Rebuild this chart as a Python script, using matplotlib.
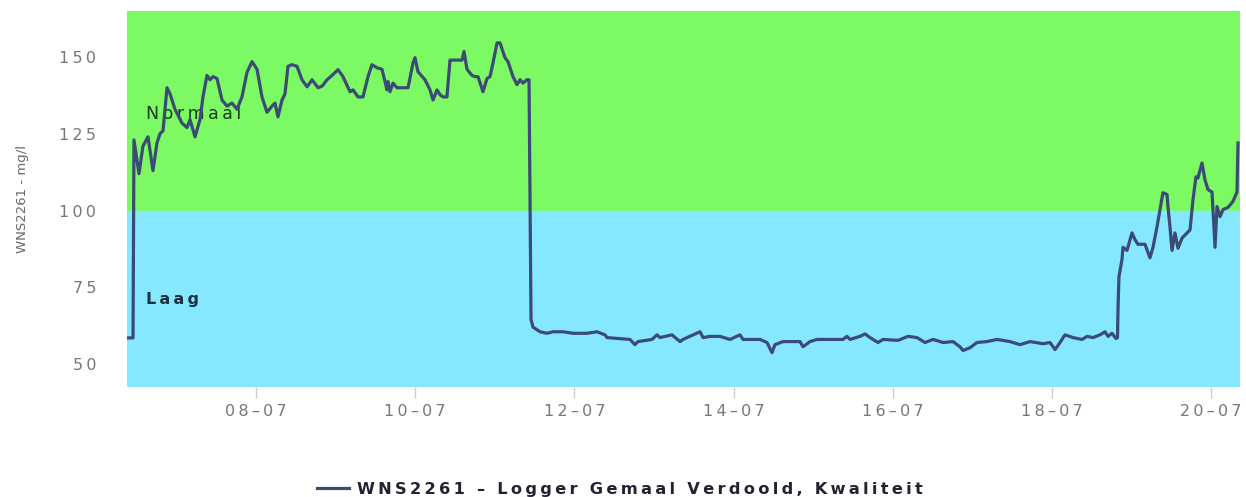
import pandas as pd
import matplotlib
matplotlib.use("Agg")
import matplotlib.pyplot as plt
import matplotlib.dates as mdates
from matplotlib.ticker import FuncFormatter

# measurement times as fractional day of July 2023, and concentration in mg/l
days = [6.379, 6.455, 6.467, 6.530, 6.580, 6.643, 6.706, 6.756, 6.794, 6.832,
        6.882, 6.920, 6.982, 7.070, 7.133, 7.171, 7.234, 7.296, 7.334, 7.384,
        7.422, 7.460, 7.510, 7.573, 7.636, 7.698, 7.761, 7.824, 7.887, 7.950,
        8.013, 8.075, 8.138, 8.201, 8.239, 8.276, 8.327, 8.364, 8.402, 8.452,
        8.515, 8.578, 8.641, 8.704, 8.779, 8.830, 8.892, 8.955, 9.030, 9.093,
        9.181, 9.219, 9.281, 9.344, 9.407, 9.457, 9.520, 9.583, 9.646, 9.658,
        9.683, 9.721, 9.771, 9.910, 9.972, 9.997, 10.035, 10.123, 10.186, 10.224,
        10.274, 10.312, 10.349, 10.399, 10.437, 10.525, 10.588, 10.613, 10.651, 10.714,
        10.751, 10.789, 10.852, 10.902, 10.940, 10.977, 11.028, 11.065, 11.128, 11.166,
        11.229, 11.279, 11.317, 11.354, 11.404, 11.430, 11.455, 11.480, 11.568, 11.656,
        11.731, 11.857, 11.983, 12.158, 12.284, 12.384, 12.410, 12.698, 12.761, 12.799,
        12.975, 13.038, 13.075, 13.226, 13.327, 13.364, 13.578, 13.616, 13.704, 13.829,
        13.955, 14.080, 14.118, 14.332, 14.420, 14.482, 14.520, 14.621, 14.834, 14.872,
        14.960, 15.048, 15.374, 15.424, 15.462, 15.588, 15.651, 15.714, 15.814, 15.877,
        16.065, 16.191, 16.304, 16.405, 16.505, 16.631, 16.756, 16.844, 16.882, 16.970,
        17.058, 17.183, 17.309, 17.472, 17.598, 17.724, 17.887, 17.975, 18.038, 18.101,
        18.163, 18.264, 18.377, 18.440, 18.515, 18.603, 18.666, 18.704, 18.754, 18.804,
        18.823, 18.829, 18.841, 18.879, 18.892, 18.942, 19.005, 19.043, 19.080, 19.168,
        19.231, 19.269, 19.319, 19.357, 19.394, 19.445, 19.457, 19.482, 19.508, 19.545,
        19.583, 19.633, 19.696, 19.734, 19.771, 19.809, 19.834, 19.884, 19.922, 19.960,
        20.010, 20.048, 20.073, 20.111, 20.148, 20.211, 20.274, 20.324, 20.337]
values = [58.5, 58.5, 123, 112, 121, 124, 113, 122, 125, 126,
          140, 138, 133, 128.5, 127, 129.6, 124, 129.6, 137, 144,
          142.6, 143.6, 143, 136, 134, 135, 133, 137, 145, 148.5,
          146, 137, 132, 134, 135, 130.5, 136, 138, 147, 147.5,
          147, 142.6, 140.3, 142.6, 140, 140.5, 142.6, 144, 145.9, 143.6,
          138.7, 139.3, 137, 137, 143.6, 147.5, 146.5, 146, 139.3, 142,
          138.7, 141.5, 140, 140, 148, 149.8, 145.2, 142.6, 139.3, 136,
          139.3, 137.7, 137, 137, 149, 149, 149, 151.8, 146, 144,
          143.6, 143.6, 138.7, 143, 143.6, 148, 154.6, 154.6, 149.8, 148.5,
          143.6, 141, 142.6, 141.5, 142.6, 142.6, 64.5, 62, 60.5, 60,
          60.5, 60.5, 60, 60, 60.5, 59.5, 58.6, 58, 56.3, 57.3,
          58, 59.5, 58.6, 59.5, 57.3, 58, 60.5, 58.6, 59, 59,
          58, 59.5, 58, 58, 57, 53.7, 56.3, 57.3, 57.3, 55.6,
          57.3, 58, 58, 59, 58, 59, 59.8, 58.6, 57, 58,
          57.7, 59, 58.6, 57, 58, 57, 57.3, 55.6, 54.4, 55.3,
          57, 57.3, 58, 57.3, 56.3, 57.3, 56.6, 57, 54.7, 57,
          59.5, 58.6, 58, 59, 58.6, 59.5, 60.5, 59, 60, 58.3,
          58.6, 67.6, 78.4, 84, 88, 87, 92.7, 90.5, 89, 89,
          84.6, 88, 94.7, 100.3, 105.8, 105.2, 101.3, 94.7, 87, 92.7,
          87.7, 91, 92.7, 93.7, 103.5, 111, 110.6, 115.5, 110, 106.8,
          106, 88, 101.3, 98, 100.3, 101, 103, 106, 122]

x_start = 6.379
x_end = 20.362
y_min, y_max = 42.5, 165
threshold = 100
tick_days = [8, 10, 12, 14, 16, 18, 20]
y_ticks = [50, 75, 100, 125, 150]
band_labels = ["Normaal", "Laag"]
y_label = "WNS2261 - mg/l"
series_name = "WNS2261 \u2013 Logger Gemaal Verdoold, Kwaliteit"

base = pd.Timestamp("2023-07-01")
def to_time(d):
    return base + pd.to_timedelta(d - 1, unit="D")

# the original rendering is stretched sideways, fake it with letter spacing
def spaced(s, sp="\u2009"):
    return sp.join(s)

times = [to_time(d) for d in days]

fig = plt.figure(figsize=(12.46, 4.97), dpi=100)
ax = fig.add_axes([0.1019, 0.2213, 0.8933, 0.7566])

# bands
ax.axhspan(threshold, y_max, color="#7dfa63", zorder=0)
ax.axhspan(y_min, threshold, color="#86e8ff", zorder=0)
ax.text(to_time(6.62), 131.5, spaced(band_labels[0]), fontsize=12.5,
        color="#1a3a1a", va="center", ha="left", family="DejaVu Sans")
ax.text(to_time(6.62), 71, spaced(band_labels[1]), fontsize=11.5,
        color="#1d3045", va="center", ha="left", family="DejaVu Sans",
        fontweight="bold")

line, = ax.plot(times, values, color="#3b4b75", lw=2.3, zorder=3,
                solid_joinstyle="round")

ax.set_xlim(to_time(x_start), to_time(x_end))
ax.set_ylim(y_min, y_max)

ax.set_yticks(y_ticks)
ax.yaxis.set_major_formatter(FuncFormatter(lambda v, p: spaced("%d" % v)))
ax.tick_params(axis="y", length=0, pad=22, labelsize=11.5, labelcolor="#777777")
ax.set_xticks([to_time(d) for d in tick_days])
ax.xaxis.set_major_formatter(FuncFormatter(
    lambda v, p: spaced(mdates.num2date(v).strftime("%d\u2013%m"))))
ax.tick_params(axis="x", length=8, width=1, color="#cccccc", pad=4,
               labelsize=11.5, labelcolor="#777777")
for lab in ax.get_xticklabels() + ax.get_yticklabels():
    lab.set_family("DejaVu Sans")

for s in ax.spines.values():
    s.set_visible(False)

ax.set_ylabel(y_label, fontsize=9.5, color="#666666",
              family="DejaVu Sans", labelpad=22)

fig.legend([line], [spaced(series_name)], loc="center",
           bbox_to_anchor=(0.4976, 0.016), frameon=False, handlelength=2.0,
           handletextpad=0.5,
           prop={"family": "DejaVu Sans", "weight": "bold", "size": 11.7})
for t in fig.legends[0].get_texts():
    t.set_color("#222233")

fig.savefig("out.png", dpi=100)
